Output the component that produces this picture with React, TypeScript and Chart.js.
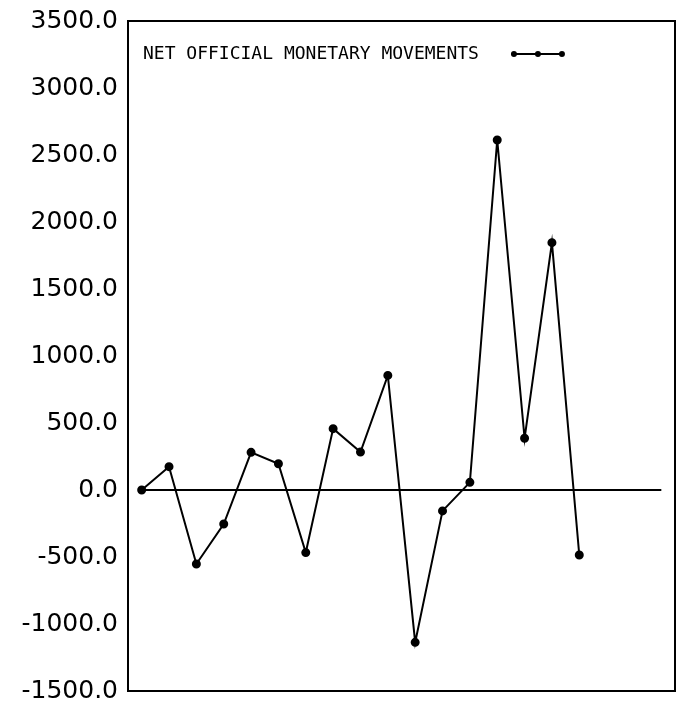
import React, { useEffect, useRef } from "react";
import { Chart, registerables } from "chart.js";

Chart.register(...registerables);

// 20 period slots along the (unlabelled) horizontal axis
const periods = [
  "1", "2", "3", "4", "5", "6", "7", "8", "9", "10",
  "11", "12", "13", "14", "15", "16", "17", "18", "19", "20",
];

// Net official monetary movements
const netOfficialMonetaryMovements = [
  0, 174, -552, -254, 281, 196, -467, 458, 283, 855,
  -1137, -156, 57, 2612, 386, 1846, -485,
];

const zeroLine = periods.map(() => 0);

const yTickValues = [-1500, -1000, -500, 0, 500, 1000, 1500, 2000, 2500, 3000, 3500];

const seriesLabel = "NET OFFICIAL MONETARY MOVEMENTS";

const frameAndLegend = {
  id: "frameAndLegend",
  afterDraw(chart: any) {
    const { ctx, chartArea } = chart;
    ctx.save();
    ctx.strokeStyle = "#000";
    ctx.lineWidth = 2;
    ctx.strokeRect(chartArea.left, chartArea.top, chartArea.right - chartArea.left, chartArea.bottom - chartArea.top);

    // legend: text then marker (line with three dots)
    ctx.font = '18px "DejaVu Sans Mono"';
    ctx.fillStyle = "#000";
    ctx.textAlign = "left";
    ctx.textBaseline = "middle";
    const tx = chartArea.left + 15;
    const ty = chartArea.top + 33;
    ctx.fillText(seriesLabel, tx, ty);
    const tw = ctx.measureText(seriesLabel).width;
    const mx0 = tx + tw + 35;
    const mx1 = mx0 + 48;
    ctx.beginPath();
    ctx.moveTo(mx0, ty);
    ctx.lineTo(mx1, ty);
    ctx.lineWidth = 2;
    ctx.stroke();
    [mx0, (mx0 + mx1) / 2, mx1].forEach((x) => {
      ctx.beginPath();
      ctx.arc(x, ty, 3, 0, Math.PI * 2);
      ctx.fill();
    });
    ctx.restore();
  },
};

export default function App() {
  const ref = useRef<HTMLCanvasElement>(null);

  useEffect(() => {
    document.body.style.margin = "0";
    const canvas = ref.current;
    if (!canvas) return;
    const chart = new Chart(canvas, {
      type: "line",
      data: {
        labels: periods,
        datasets: [
          {
            label: "zero",
            data: zeroLine,
            borderColor: "#000",
            borderWidth: 2,
            pointRadius: 0,
            tension: 0,
          },
          {
            label: seriesLabel,
            data: netOfficialMonetaryMovements,
            borderColor: "#000",
            backgroundColor: "#000",
            borderWidth: 2,
            pointRadius: 3.5,
            pointBackgroundColor: "#000",
            pointBorderColor: "#000",
            tension: 0,
          },
        ],
      },
      options: {
        animation: false,
        responsive: false,
        devicePixelRatio: 1,
        layout: { padding: { left: 0, top: 21, right: 5, bottom: 11 } },
        plugins: {
          legend: { display: false },
          tooltip: { enabled: false },
          title: { display: false },
        },
        scales: {
          x: {
            type: "category",
            offset: true,
            display: false,
          },
          y: {
            type: "linear",
            min: -1500,
            max: 3500,
            grid: { display: false, drawTicks: false },
            border: { display: false },
            afterFit(scale: any) {
              scale.width = 128;
              scale.paddingTop = 0;
              scale.paddingBottom = 0;
            },
            afterBuildTicks(scale: any) {
              scale.ticks = yTickValues.map((v) => ({ value: v }));
            },
            ticks: {
              autoSkip: false,
              padding: 10,
              color: "#000",
              font: { family: "DejaVu Sans", size: 25 },
              callback: (v: any) => Number(v).toFixed(1),
            },
          },
        },
      },
      plugins: [frameAndLegend],
    });
    return () => chart.destroy();
  }, []);

  return (
    <div style={{ width: 681, height: 702 }}>
      <canvas ref={ref} width={681} height={702} />
    </div>
  );
}
